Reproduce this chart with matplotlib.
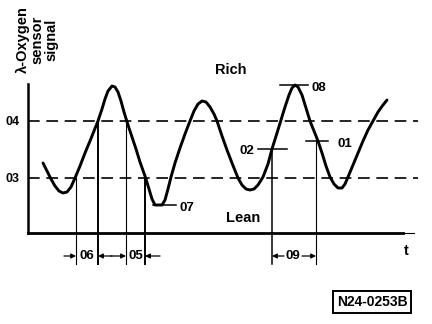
import numpy as np
import matplotlib.pyplot as plt

plt.rcParams['font.family'] = ['Liberation Sans', 'DejaVu Sans']
plt.rcParams['font.weight'] = 'bold'

# lambda sensor signal (x = time, y = picture row, down is low)
sig_t = [43, 47, 51, 55, 59, 63, 67, 71, 75, 80, 85, 90, 94, 98, 102, 105, 108, 112,
         115, 118, 121, 124, 128, 132, 136, 140, 145, 149, 152, 155, 162, 165, 168, 171, 175, 180,
         185, 190, 194, 198, 202, 206, 210, 214, 217, 222, 227, 232, 238, 242, 246, 250,
         254, 258, 263, 268, 272, 277, 281, 285, 289, 292, 295, 298, 302, 306, 310, 314,
         318, 322, 326, 330, 334, 338, 342, 345, 348, 353, 358, 363, 368, 373, 378, 383, 387]
sig_v = [163, 171, 179, 186, 191, 193, 192, 187, 178, 166, 153, 141, 131, 121, 109, 99, 91, 86,
         87, 92, 101, 112, 125, 137, 149, 162, 176, 189, 199, 205, 205, 200, 189, 177, 163, 148,
         134, 121, 111, 104, 101, 102, 107, 114, 121, 136, 150, 163, 178, 185, 189, 190,
         189, 185, 177, 164, 149, 133, 120, 107, 95, 88, 85, 87, 95, 108, 121, 131,
         141, 153, 166, 177, 184, 188, 188, 184, 177, 165, 153, 141, 130, 121, 112, 105, 100]

level_04 = 121
level_03 = 178
level_labels = ['04', '03']

# vertical marker lines: x, top, line width
vlines_x = [76, 98, 126, 145, 272, 316]
vlines_top = [178, 121, 121, 178, 149, 141]
vlines_w = [0.8, 1.4, 0.8, 1.4, 1.1, 0.8]

# horizontal point markers: (x0, x1, y, label, label x, label y)
marks = [(153, 176, 205, '07', 180, 208),
         (258, 287, 149, '02', 247, 151),
         (280, 308, 85, '08', 312, 88),
         (306, 328, 141, '01', 337, 144)]

fig = plt.figure(figsize=(4.32, 3.24), dpi=100)
ax = fig.add_axes([0, 0, 1, 1])
ax.set_xlim(0, 432)
ax.set_ylim(324, 0)
ax.axis('off')

# axes
ax.plot([28, 28], [84, 233], color='black', lw=1.8)
ax.plot([28, 403], [233, 233], color='black', lw=2.0)
ax.plot([403, 414], [233, 233], color='black', lw=0.8)

# reference levels
for lvl, lab in zip([level_04, level_03], level_labels):
    ax.plot([28, 418], [lvl, lvl], color='black', lw=1.2, dashes=(7, 4))
    ax.text(13, lvl + 1, lab, ha='center', va='center', fontsize=9)

ax.plot(sig_t, sig_v, color='black', lw=2.1, solid_joinstyle='round', solid_capstyle='round')

for x, top, w in zip(vlines_x, vlines_top, vlines_w):
    ax.plot([x, x], [top, 264], color='black', lw=w)

for x0, x1, y, lab, tx, ty in marks:
    ax.plot([x0, x1], [y, y], color='black', lw=1.1)
    ax.text(tx, ty, lab, ha='left' if tx > x1 else 'center', va='center', fontsize=9.5)

# dimension arrows
ay = 256
arr = dict(arrowstyle='-|>', color='black', lw=0.9, mutation_scale=7, shrinkA=0, shrinkB=0)
ax.annotate('', xy=(76, ay), xytext=(64, ay), arrowprops=arr)
ax.annotate('', xy=(98, ay), xytext=(112, ay), arrowprops=arr)
ax.annotate('', xy=(126, ay), xytext=(111, ay), arrowprops=arr)
ax.annotate('', xy=(145, ay), xytext=(160, ay), arrowprops=arr)
ax.annotate('', xy=(272, ay), xytext=(284, ay), arrowprops=arr)
ax.annotate('', xy=(316, ay), xytext=(302, ay), arrowprops=arr)
ax.text(87, ay, '06', ha='center', va='center', fontsize=9.5)
ax.text(135.5, ay, '05', ha='center', va='center', fontsize=9.5)
ax.text(293, ay, '09', ha='center', va='center', fontsize=9.5)

ax.text(231, 70, 'Rich', ha='center', va='center', fontsize=10.5)
ax.text(243, 218, 'Lean', ha='center', va='center', fontsize=10.5)
ax.text(406, 251, 't', ha='center', va='center', fontsize=10.5)

ax.text(37, 40, 'λ-Oxygen\nsensor\nsignal', rotation=90, ha='center', va='center',
        fontsize=10.5, linespacing=1.0, multialignment='center')

ax.text(372, 302, 'N24-0253B', ha='center', va='center', fontsize=10,
        bbox=dict(boxstyle='square,pad=0.3', fc='white', ec='black', lw=1.4))

fig.savefig('out.png', dpi=100)
